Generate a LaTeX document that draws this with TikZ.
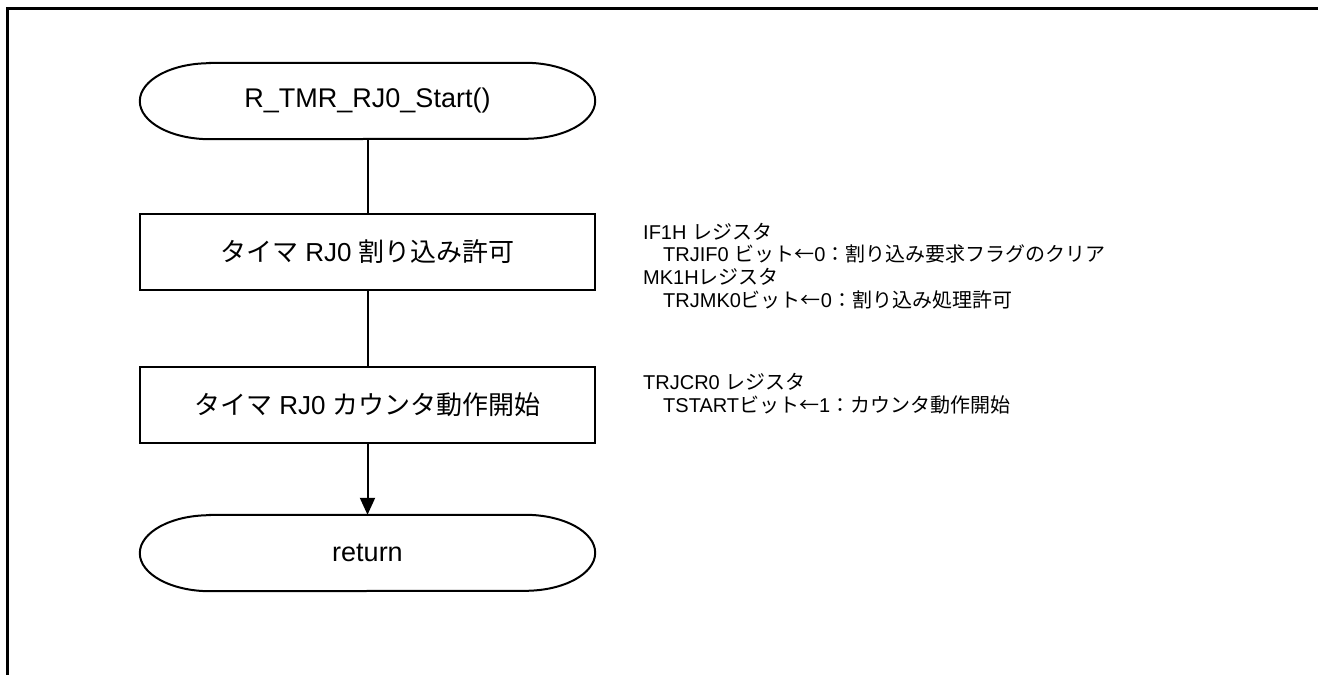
\documentclass[tikz,border=0pt]{standalone}
\usepackage{fontspec}
\setmainfont{Liberation Sans}
\newfontfamily\jp{Noto Sans CJK JP}
\usetikzlibrary{positioning,arrows.meta}

\tikzset{
  procbox/.style={draw, line width=2pt, minimum width=455pt, minimum height=76pt, inner sep=0pt, font=\fontsize{26}{30}\selectfont},
  termnode/.style={minimum width=455pt, minimum height=76pt, inner sep=0pt, font=\fontsize{27}{30}\selectfont},
  notetext/.style={anchor=base west, inner sep=0pt, font=\fontsize{20}{23}\selectfont},
  link/.style={line width=2pt},
}

\begin{document}
\begin{tikzpicture}[x=1pt, y=1pt]
\useasboundingbox (0,0) rectangle (1318,675);

% frame (open at right and bottom)
\draw[line width=3pt] (1318,666) -- (7,666) -- (7,0);

% flow nodes
\node[termnode] (start) at (367.5,574) {R\_TMR\_RJ0\_Start()};
\node[procbox] (intr) at (367.5,423) {{\jp タイマ} RJ0 {\jp 割り込み許可}};
\node[procbox] (count) at (367.5,270) {{\jp タイマ} RJ0 {\jp カウンタ動作開始}};
\node[termnode] (ret) at (367.5,122) {return};

% terminal outlines with flattened ends
\foreach \t in {start,ret} {
    \draw[line width=2pt] ([xshift=70pt]\t.north west) -- ([xshift=-70pt]\t.north east)
        arc[start angle=90, end angle=-90, x radius=70pt, y radius=38pt]
        -- ([xshift=70pt]\t.south west)
        arc[start angle=270, end angle=90, x radius=70pt, y radius=38pt] -- cycle;
}

% connectors
\draw[link] (start) -- (intr);
\draw[link] (intr) -- (count);
\draw[link, -{Triangle[length=17pt, width=15pt]}] (count) -- (ret);

% register notes
\foreach \x/\y/\txt [count=\i] in {
    643/435/{IF1H {\jp レジスタ}},
    663/413/{TRJIF0 {\jp ビット←}0{\jp ：割り込み要求フラグのクリア}},
    643/390/{MK1H{\jp レジスタ}},
    663/367/{TRJMK0{\jp ビット←}0{\jp ：割り込み処理許可}},
    643/285/{TRJCR0 {\jp レジスタ}},
    663/262/{TSTART{\jp ビット←}1{\jp ：カウンタ動作開始}}} {
    \node[notetext] (note\i) at (\x,\y) {\txt};
}

\end{tikzpicture}
\end{document}
